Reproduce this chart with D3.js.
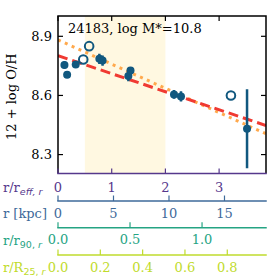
<!DOCTYPE html>
<html><head><meta charset="utf-8">
<script src="https://cdn.jsdelivr.net/npm/d3@7"></script>
<style>body{margin:0;background:#fff}svg{display:block;font-family:"DejaVu Serif",serif}</style>
</head><body><svg id="c" width="277" height="277"></svg>
<script>
// Data
const filledR = [0.12, 0.17, 0.33, 0.77, 0.83, 1.31, 1.35, 2.16, 2.29, 3.52];
const filledOH = [8.755, 8.705, 8.757, 8.786, 8.777, 8.698, 8.726, 8.605, 8.595, 8.431];
const filledErr = [0.018, 0.008, 0.018, 0.026, 0.026, 0.026, 0.012, 0.022, 0.026, 0.20];
const openR = [0.47, 0.58, 3.22];
const openOH = [8.782, 8.85, 8.60];
const fitRed = [8.802, -0.0915];     // intercept, slope (per r_eff)
const fitOrange = [8.882, -0.123];
const shadeRange = [0.5, 2.0];
const yTicks = [8.3, 8.6, 8.9];
const reffTicks = [0, 1, 2, 3];
const kpcTicks = [0, 5, 10, 15];
const r90Ticks = [0.0, 0.5, 1.0];
const r25Ticks = [0.0, 0.2, 0.4, 0.6, 0.8];
const title = "24183, log M*=10.8";

const svg = d3.select("#c");
const L = 58, R = 266, T = 16, B = 173.5;
const x = d3.scaleLinear().domain([0, 3.873]).range([L, R]);
const y = d3.scaleLinear().domain([8.204, 9.003]).range([B, T]);
const xk = d3.scaleLinear().domain([0, 18.74]).range([L, R]);
const x90 = d3.scaleLinear().domain([0, 1.444]).range([L, R]);
const x25 = d3.scaleLinear().domain([0, 0.983]).range([L, R]);

const cPurple = "#56388c", cBlue = "#3e6a9a", cTeal = "#25a483", cYel = "#bfdb2c";
const cPt = "#11587f";

// shading
svg.append("rect").attr("x", x(shadeRange[0])).attr("y", T)
  .attr("width", x(shadeRange[1]) - x(shadeRange[0])).attr("height", B - T)
  .attr("fill", "#fff8e1");

svg.append("clipPath").attr("id", "cp").append("rect").attr("x", L).attr("y", T).attr("width", R - L).attr("height", B - T);
const pg = svg.append("g").attr("clip-path", "url(#cp)");

const xd = x.domain();
pg.append("line").attr("x1", x(xd[0])).attr("x2", x(xd[1]))
  .attr("y1", y(fitOrange[0] + fitOrange[1] * xd[0])).attr("y2", y(fitOrange[0] + fitOrange[1] * xd[1]))
  .attr("stroke", "#ffa94d").attr("stroke-width", 3).attr("stroke-dasharray", "3,4.5");
pg.append("line").attr("x1", x(xd[0])).attr("x2", x(xd[1]))
  .attr("y1", y(fitRed[0] + fitRed[1] * xd[0])).attr("y2", y(fitRed[0] + fitRed[1] * xd[1]))
  .attr("stroke", "#f03a32").attr("stroke-width", 3).attr("stroke-dasharray", "10,5");

// error bars + filled points
filledR.forEach((r, i) => {
  pg.append("line").attr("x1", x(r)).attr("x2", x(r))
    .attr("y1", y(filledOH[i] - filledErr[i])).attr("y2", y(filledOH[i] + filledErr[i]))
    .attr("stroke", cPt).attr("stroke-width", 2.5);
  pg.append("circle").attr("cx", x(r)).attr("cy", y(filledOH[i])).attr("r", 4).attr("fill", cPt);
});
openR.forEach((r, i) => {
  pg.append("circle").attr("cx", x(r)).attr("cy", y(openOH[i])).attr("r", 4.3)
    .attr("fill", "none").attr("stroke", cPt).attr("stroke-width", 2);
});

// frame
svg.append("path").attr("d", `M${L},${B}V${T}H${R}V${B}`).attr("fill", "none").attr("stroke", "#000").attr("stroke-width", 1.5);
svg.append("line").attr("x1", L - 0.75).attr("x2", R + 0.75).attr("y1", B).attr("y2", B).attr("stroke", cPurple).attr("stroke-width", 1.5);

// y ticks
yTicks.forEach(v => {
  svg.append("line").attr("x1", L).attr("x2", L + 5).attr("y1", y(v)).attr("y2", y(v)).attr("stroke", "#000").attr("stroke-width", 1.2);
  svg.append("line").attr("x1", R).attr("x2", R - 5).attr("y1", y(v)).attr("y2", y(v)).attr("stroke", "#000").attr("stroke-width", 1.2);
  svg.append("text").attr("x", L - 6).attr("y", y(v)).attr("dy", "0.36em").attr("text-anchor", "end")
    .attr("font-size", 13).text(d3.format(".1f")(v));
});
// x ticks (reff) top & bottom
reffTicks.forEach(v => {
  svg.append("line").attr("x1", x(v)).attr("x2", x(v)).attr("y1", T).attr("y2", T + 5).attr("stroke", "#000").attr("stroke-width", 1.2);
  svg.append("line").attr("x1", x(v)).attr("x2", x(v)).attr("y1", B).attr("y2", B - 5).attr("stroke", cPurple).attr("stroke-width", 1.2);
  svg.append("text").attr("x", x(v)).attr("y", 187).attr("dy", "0.36em").attr("text-anchor", "middle")
    .attr("font-size", 13).attr("fill", cPurple).text(v);
});

function secAxis(scale, ticks, yLine, color, fmt) {
  svg.append("line").attr("x1", L - 0.75).attr("x2", R + 0.75).attr("y1", yLine).attr("y2", yLine).attr("stroke", color).attr("stroke-width", 1.5);
  ticks.forEach(v => {
    svg.append("line").attr("x1", scale(v)).attr("x2", scale(v)).attr("y1", yLine).attr("y2", yLine - 5.5).attr("stroke", color).attr("stroke-width", 1.2);
    svg.append("text").attr("x", scale(v)).attr("y", yLine + 12).attr("dy", "0.36em").attr("text-anchor", "middle")
      .attr("font-size", 13).attr("fill", color).text(fmt(v));
  });
}
secAxis(xk, kpcTicks, 201, cBlue, d3.format("d"));
secAxis(x90, r90Ticks, 227.7, cTeal, d3.format(".1f"));
secAxis(x25, r25Ticks, 255, cYel, d3.format(".1f"));

// axis labels
function lab(yy, color, main, sub, subItalicPart) {
  const t = svg.append("text").attr("x", 3).attr("y", yy).attr("dy", "0.36em").attr("font-size", 13).attr("fill", color);
  t.append("tspan").text(main);
  if (sub !== null) {
    t.append("tspan").attr("font-family", "DejaVu Sans").attr("font-size", 9.5).attr("dy", "0.3em").text(sub);
    t.append("tspan").attr("font-family", "DejaVu Sans").attr("font-style", "italic").attr("font-size", 9.5).text(subItalicPart);
  }
}
const t1 = svg.append("text").attr("x", 3).attr("y", 187).attr("dy", "0.36em").attr("font-size", 13).attr("fill", cPurple);
t1.append("tspan").text("r/r");
t1.append("tspan").attr("font-family", "DejaVu Sans").attr("font-style", "italic").attr("font-size", 9.5).attr("dy", "0.3em").text("eff, r");
lab(213, cBlue, "r [kpc]", null);
lab(240, cTeal, "r/r", "90, ", "r");
lab(267, cYel, "r/R", "25, ", "r");

// y label
svg.append("text").attr("transform", `translate(16,${(T + B) / 2 + 2}) rotate(-90)`).attr("text-anchor", "middle")
  .attr("font-size", 13).text("12 + log O/H");

// title
svg.append("text").attr("x", 68).attr("y", 28).attr("dy", "0.36em").attr("font-size", 13).text(title);
</script></body></html>
